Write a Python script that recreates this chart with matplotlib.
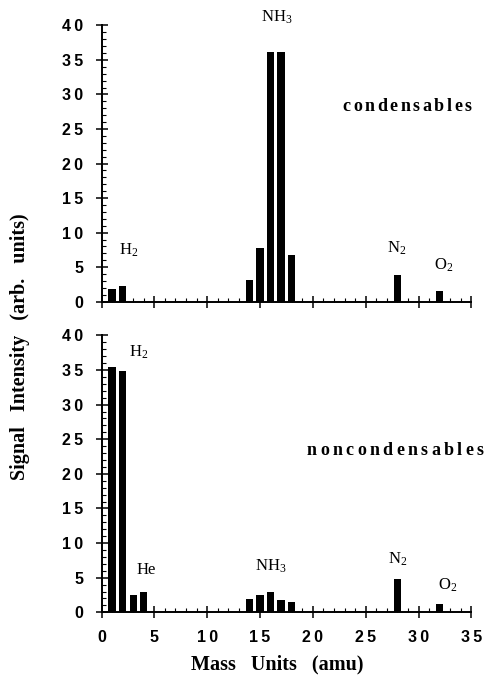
import numpy as np
import matplotlib
matplotlib.use('Agg')
import matplotlib.pyplot as plt
from matplotlib.ticker import MultipleLocator, FuncFormatter
from matplotlib.transforms import IdentityTransform

plt.rcParams['mathtext.fontset'] = 'custom'
plt.rcParams['mathtext.rm'] = 'Liberation Serif'
plt.rcParams['mathtext.it'] = 'Liberation Serif:italic'
plt.rcParams['mathtext.bf'] = 'Liberation Serif:bold'

# mass spectra
mass = [1, 2, 3, 4, 14, 15, 16, 17, 18, 28, 32]
condensables = [1.8, 2.2, 0, 0, 3.2, 7.7, 36.2, 36.2, 6.7, 3.8, 1.5]
noncondensables = [35.5, 34.8, 2.5, 3.0, 1.9, 2.5, 3.0, 1.8, 1.5, 4.8, 1.2]

# peak labels: (text, x, y)
top_labels = [('H$_2$', 2.6, 7.4), ('NH$_3$', 16.6, 41.2),
              ('N$_2$', 27.9, 7.8), ('O$_2$', 32.4, 5.3)]
bot_labels = [('H$_2$', 3.5, 37.5), ('He', 4.2, 6.1), ('NH$_3$', 16.0, 6.6),
              ('N$_2$', 28.0, 7.6), ('O$_2$', 32.8, 3.9)]

fig = plt.figure(figsize=(4.88, 6.83), dpi=100)
ax1 = fig.add_axes([0.208, 0.5583, 0.758, 0.4045])
ax2 = fig.add_axes([0.208, 0.1035, 0.758, 0.4054])


def spaced_text(ax, x, y, s, track, **kw):
    # draw text with extra letter spacing (pixels), starting at data point x, y
    r = fig.canvas.get_renderer()
    px, py = ax.transData.transform((x, y))
    for ch in s:
        t = fig.text(px, py, ch, transform=IdentityTransform(), va='center', **kw)
        w = t.get_window_extent(r).width
        px += w + track


# digits in the original are printed with a little gap between them
spaced = FuncFormatter(lambda v, pos: '\u2009'.join(str(int(v))))

for ax, vals, labels in [(ax1, condensables, top_labels), (ax2, noncondensables, bot_labels)]:
    ax.bar(mass, vals, width=0.7, color='black')
    ax.set_xlim(0, 35)
    ax.set_ylim(0, 40)
    for sp in ['top', 'right']:
        ax.spines[sp].set_visible(False)
    for sp in ['left', 'bottom']:
        ax.spines[sp].set_linewidth(1.4)
    ax.xaxis.set_major_locator(MultipleLocator(5))
    ax.xaxis.set_minor_locator(MultipleLocator(1))
    ax.yaxis.set_major_locator(MultipleLocator(5))
    ax.yaxis.set_minor_locator(MultipleLocator(1))
    ax.xaxis.set_major_formatter(spaced)
    ax.yaxis.set_major_formatter(spaced)
    ax.tick_params(which='major', direction='inout', length=8, width=1.1, pad=9)
    ax.tick_params(which='minor', direction='in', length=3, width=0.8)
    for lab in ax.get_yticklabels() + ax.get_xticklabels():
        lab.set_fontfamily('Liberation Sans')
        lab.set_fontweight('bold')
        lab.set_fontsize(11.5)
    for txt, x, y in labels:
        ax.text(x, y, txt, ha='center', va='center', fontsize=12,
                family='Liberation Serif', clip_on=False)

ax1.tick_params(axis='x', labelbottom=False)

spaced_text(ax1, 22.8, 28.2, 'condensables', 2.6, fontsize=13,
            family='Liberation Serif', fontweight='bold')
spaced_text(ax2, 19.4, 23.4, 'noncondensables', 3.4, fontsize=13,
            family='Liberation Serif', fontweight='bold')

fig.text(0.040, 0.492, 'Signal   Intensity   (arb.   units)', rotation=90,
         ha='center', va='center', fontsize=14.5, family='Liberation Serif',
         fontweight='bold')
fig.text(0.568, 0.027, 'Mass   Units   (amu)', ha='center', va='center',
         fontsize=14.5, family='Liberation Serif', fontweight='bold')

fig.savefig('out.png', dpi=100)
